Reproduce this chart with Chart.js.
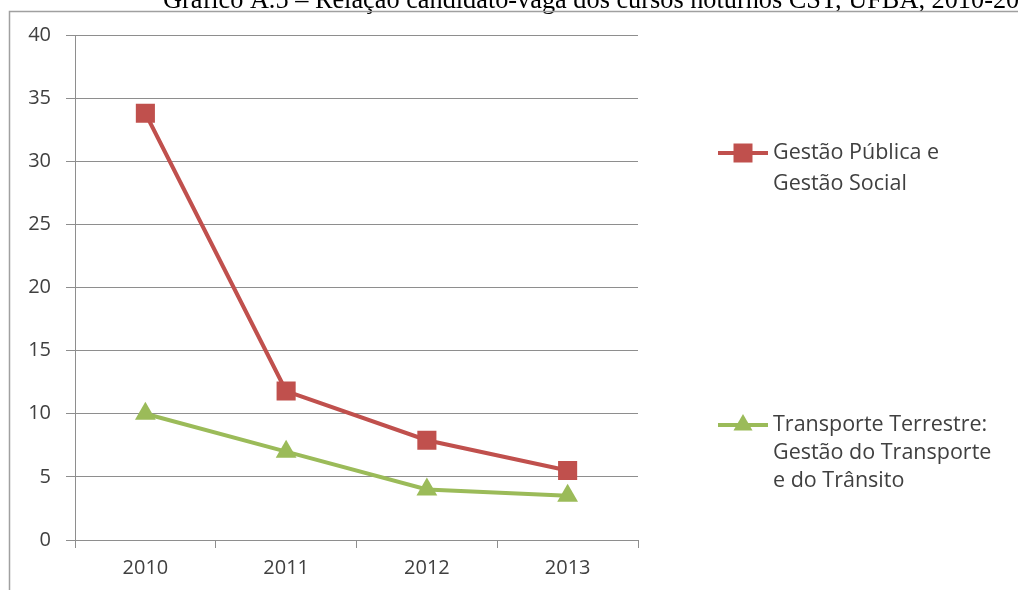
<!DOCTYPE html>
<html>
<head>
<meta charset="utf-8">
<script src="https://cdn.jsdelivr.net/npm/chart.js@4.4.1/dist/chart.umd.min.js"></script>
<style>
  html, body { margin: 0; padding: 0; background: #fff; width: 1018px; height: 590px; overflow: hidden; }
  canvas { position: absolute; left: 0; top: 0; }
</style>
</head>
<body>
<canvas id="chart" width="1018" height="590"></canvas>
<script>
// Candidate-per-seat ratio of the evening CST courses
const years = ['2010', '2011', '2012', '2013'];
const gestaoPublica = [33.8, 11.8, 7.9, 5.5];
const transporte = [10, 7, 4, 3.5];
const seriesNames = [
  ['Gestão Pública e', 'Gestão Social'],
  ['Transporte Terrestre:', 'Gestão do Transporte', 'e do Trânsito']
];
const chartTitle = 'Gráfico A.5 – Relação candidato-vaga dos cursos noturnos CST, UFBA, 2010-2013';
const yMin = 0, yMax = 40, yStep = 5;

const RED = '#c0504d';
const GREEN = '#9bbb59';
const GRID = '#8e8e8e';
const TEXT = '#404040';
const FONT = '"Open Sans", "Liberation Sans", sans-serif';

// Title line across the top edge, plus the outer frame of the figure
const titlePlugin = {
  id: 'pageTitle',
  beforeDraw(chart) {
    const ctx = chart.ctx;
    ctx.save();
    ctx.fillStyle = '#000';
    ctx.font = '26.3px "Liberation Serif", "Times New Roman", serif';
    ctx.textBaseline = 'alphabetic';
    ctx.textAlign = 'left';
    ctx.fillText(chartTitle, 163, 8);
    ctx.strokeStyle = '#a0a0a0';
    ctx.lineWidth = 1.5;
    ctx.beginPath();
    ctx.moveTo(9.5, 590);
    ctx.lineTo(9.5, 11.5);
    ctx.lineTo(1018, 11.5);
    ctx.stroke();
    ctx.restore();
  }
};

// Legend on the right, one block per series with wrapped names
const sideLegend = {
  id: 'sideLegend',
  afterDraw(chart) {
    const ctx = chart.ctx;
    const anchors = [153, 425];
    const lineGap = [31, 28];
    chart.data.datasets.forEach((ds, i) => {
      const y = anchors[i];
      ctx.save();
      ctx.strokeStyle = ds.borderColor;
      ctx.lineWidth = ds.borderWidth;
      ctx.beginPath();
      ctx.moveTo(718, y);
      ctx.lineTo(768, y);
      ctx.stroke();
      ctx.fillStyle = ds.pointBackgroundColor;
      ctx.beginPath();
      if (ds.pointStyle === 'rect') {
        const s = 9.5;
        ctx.rect(743 - s, y - s, 2 * s, 2 * s);
      } else {
        const r = 11;
        ctx.moveTo(743, y - r);
        ctx.lineTo(743 + r * 0.866, y + r * 0.5);
        ctx.lineTo(743 - r * 0.866, y + r * 0.5);
        ctx.closePath();
      }
      ctx.fill();
      ctx.fillStyle = TEXT;
      ctx.font = '21.5px ' + FONT;
      ctx.textBaseline = 'middle';
      ctx.textAlign = 'left';
      seriesNames[i].forEach((line, k) => {
        ctx.fillText(line, 773, y + k * lineGap[i]);
      });
      ctx.restore();
    });
  }
};

new Chart(document.getElementById('chart'), {
  type: 'line',
  data: {
    labels: years,
    datasets: [
      {
        label: seriesNames[0].join(' '),
        data: gestaoPublica,
        borderColor: RED,
        backgroundColor: RED,
        pointBackgroundColor: RED,
        pointBorderColor: RED,
        borderWidth: 4,
        pointStyle: 'rect',
        pointRadius: 13.5,
        pointBorderWidth: 0,
        tension: 0
      },
      {
        label: seriesNames[1].join(' '),
        data: transporte,
        borderColor: GREEN,
        backgroundColor: GREEN,
        pointBackgroundColor: GREEN,
        pointBorderColor: GREEN,
        borderWidth: 4,
        pointStyle: 'triangle',
        pointRadius: 12,
        pointBorderWidth: 0,
        tension: 0
      }
    ]
  },
  options: {
    responsive: false,
    animation: false,
    devicePixelRatio: 1,
    layout: { padding: { left: 0, right: 380, top: 35, bottom: 0 } },
    plugins: {
      legend: { display: false },
      tooltip: { enabled: false },
      title: { display: false }
    },
    scales: {
      x: {
        offset: true,
        afterFit(scale) { scale.height = 50; },
        grid: { offset: true, drawOnChartArea: false, drawTicks: true, tickLength: 8, color: GRID, lineWidth: 1 },
        border: { display: true, color: GRID, width: 1 },
        ticks: { color: TEXT, font: { family: FONT, size: 20 }, padding: 8 }
      },
      y: {
        min: yMin,
        max: yMax,
        afterFit(scale) { scale.width = 75; },
        grid: { color: GRID, lineWidth: 1, drawTicks: true, tickLength: 9 },
        border: { display: true, color: GRID, width: 1 },
        ticks: { stepSize: yStep, color: TEXT, font: { family: FONT, size: 20 }, padding: 15 }
      }
    }
  },
  plugins: [titlePlugin, sideLegend]
});
</script>
</body>
</html>
